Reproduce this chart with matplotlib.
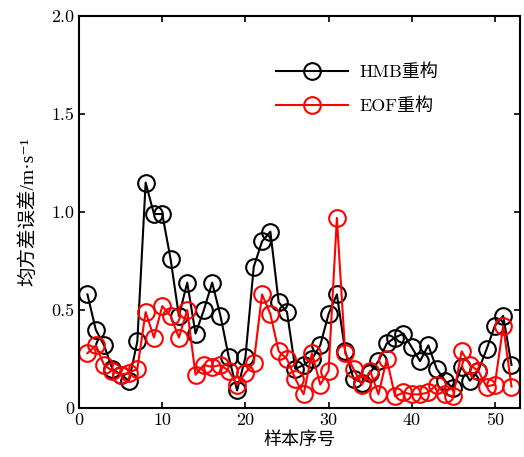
import matplotlib
matplotlib.use("Agg")
from matplotlib import pyplot as plt

plt.rcParams['font.family'] = ['cmr10', 'Noto Sans CJK SC', 'DejaVu Serif']
plt.rcParams['axes.unicode_minus'] = False

#########################################
samples = list(range(1, 53))

hmb = [0.58, 0.40, 0.32, 0.20, 0.17, 0.14, 0.34, 1.15, 0.99, 0.99,
       0.76, 0.47, 0.64, 0.38, 0.50, 0.64, 0.47, 0.26, 0.09, 0.26,
       0.72, 0.85, 0.90, 0.54, 0.49, 0.20, 0.22, 0.25, 0.32, 0.48,
       0.58, 0.29, 0.15, 0.13, 0.18, 0.24, 0.33, 0.36, 0.38, 0.31,
       0.24, 0.32, 0.20, 0.14, 0.10, 0.21, 0.14, 0.19, 0.30, 0.42,
       0.47, 0.22]

eof = [0.28, 0.32, 0.22, 0.19, 0.17, 0.18, 0.20, 0.49, 0.36, 0.52,
       0.47, 0.36, 0.50, 0.17, 0.22, 0.21, 0.22, 0.19, 0.12, 0.18,
       0.23, 0.58, 0.48, 0.29, 0.25, 0.15, 0.07, 0.28, 0.12, 0.19,
       0.97, 0.28, 0.20, 0.12, 0.19, 0.07, 0.25, 0.06, 0.08, 0.07,
       0.07, 0.08, 0.12, 0.07, 0.06, 0.29, 0.22, 0.19, 0.11, 0.12,
       0.42, 0.11]

xticks = [0, 10, 20, 30, 40, 50]
yticks = [0, 0.5, 1.0, 1.5, 2.0]
ytick_labels = ["0", "0.5", "1.0", "1.5", "2.0"]

#########################################
fig = plt.figure(figsize=(5.24, 4.57), dpi=100)
ax = fig.add_axes([0.151, 0.107, 0.841, 0.858])

ax.plot(samples, hmb, "k-o", lw=1.5, ms=12, mfc="none", mew=1.5, label="HMB重构")
ax.plot(samples, eof, "r-o", lw=1.5, ms=12, mfc="none", mew=1.5, label="EOF重构")

ax.set_xlim(0, 53)
ax.set_ylim(0, 2.0)
ax.set_xticks(xticks)
ax.set_yticks(yticks)
ax.set_yticklabels(ytick_labels)
ax.tick_params(direction="in", top=True, right=True, labelsize=13, length=4, width=1.2)
for s in ax.spines.values():
    s.set_linewidth(1.5)

ax.set_xlabel("样本序号", fontsize=13, labelpad=2)
ax.set_ylabel("均方差误差/m·s⁻¹", fontsize=14, labelpad=10,
              family=['Liberation Serif', 'Noto Sans CJK SC', 'DejaVu Serif'])

ax.legend(loc="upper left", bbox_to_anchor=(0.41, 0.92), frameon=False,
          fontsize=13, handlelength=4.0, handletextpad=0.6, labelspacing=0.95)

fig.savefig("out.png", dpi=100)
